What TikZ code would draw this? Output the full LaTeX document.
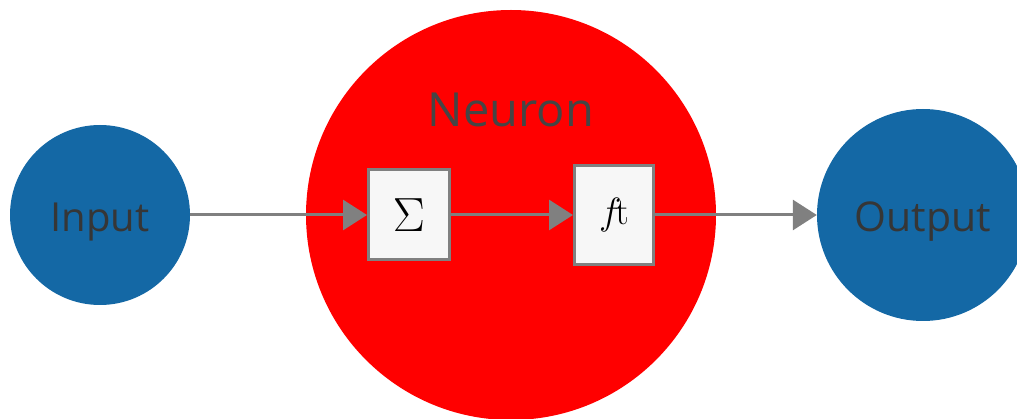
\RequirePackage{fix-cm}
\documentclass[tikz,border=0pt]{standalone}
\usepackage[no-math]{fontspec}
\usepackage{amsmath}
\usepackage{xcolor}
\setmainfont{Open Sans}
\usetikzlibrary{arrows.meta}

\definecolor{ioblue}{HTML}{1468A5}
\definecolor{txtgray}{HTML}{363636}
\definecolor{titlegray}{HTML}{454545}
\definecolor{linegray}{HTML}{808080}
\definecolor{boxfill}{HTML}{F7F7F7}

\begin{document}
\begin{tikzpicture}[x=1pt,y=-1pt,->,>={Triangle[length=24pt,width=30pt]}]
  \tikzstyle{io}=[circle,fill=ioblue,draw=none,inner sep=0pt,text=txtgray,text height=34pt,text depth=0pt,font=\fontsize{40}{48}\selectfont]
  \tikzstyle{neuron}=[circle,fill=red,draw=none,inner sep=0pt,minimum size=410pt]
  \tikzstyle{opbox}=[rectangle,fill=boxfill,draw=linegray,line width=3pt,inner sep=0pt,font=\fontsize{48}{56}\selectfont]
  \tikzstyle{link}=[color=linegray,line width=3pt]

  \path[use as bounding box] (0,0) rectangle (1017,419);
  \clip (0,0) rectangle (1017,419);

  \node[io,minimum size=180pt]  (in) at (100,215)                      {Input};
  \node[neuron]                 (neu) [right of=in, node distance=411pt] {};
  \node[io,minimum size=212pt]  (out) [right of=neu, node distance=412pt] {\fontsize{41}{48}\selectfont Output};
  \node[text=titlegray,font=\fontsize{47}{56}\selectfont] (title) [above of=neu, node distance=105pt] {Neuron};
  \node[opbox,minimum width=81pt,minimum height=90pt] (sum) [left of=neu, node distance=102pt] {$\Sigma$};
  \node[opbox,minimum width=79pt,minimum height=99pt,font=\fontsize{38}{46}\selectfont] (act) [right of=neu, node distance=103pt] {$f\!\mathrm{t}$};

  \path[link]
        (in)  edge (sum)
        (sum) edge (act)
        (act) edge (out);
\end{tikzpicture}
\end{document}
